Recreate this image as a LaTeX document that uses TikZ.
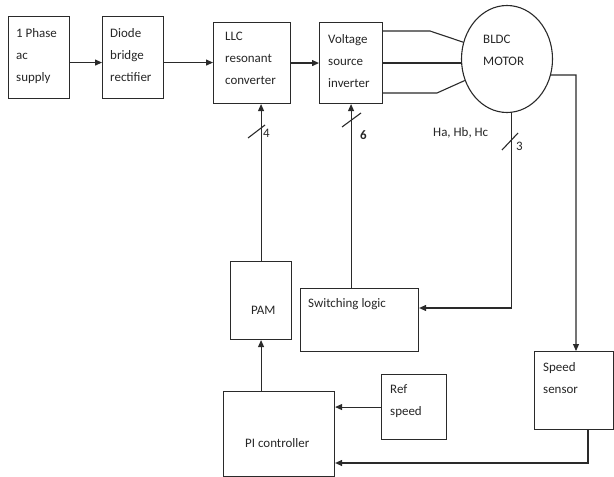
\documentclass[tikz,border=0pt]{standalone}
\usepackage{fontspec}
\setmainfont{Carlito}
\usetikzlibrary{arrows.meta,calc,shapes.geometric}
\definecolor{linec}{HTML}{2A2A2A}
\begin{document}
\begin{tikzpicture}[x=1bp,y=-1bp,
  box/.style={draw=linec, line width=1.1bp, inner sep=0, anchor=north west},
  txt/.style={inner sep=0, anchor=west, align=left, text=black!85, font=\fontsize{13}{22}\selectfont},
  arr/.style={draw=linec, line width=1.1bp, -{Triangle[length=7bp,width=6bp]}},
  ln/.style={draw=linec, line width=1.1bp}]
\useasboundingbox (0,0) rectangle (614,477);
% boxes
\node[box, minimum width=61bp, minimum height=82bp] (sup) at (8,16) {};
\node[box, minimum width=61bp, minimum height=82bp] (dio) at (102,16) {};
\node[box, minimum width=77bp, minimum height=81bp] (llc) at (213,22) {};
\node[box, minimum width=63bp, minimum height=81bp] (vsi) at (319,22) {};
\node[draw=linec, line width=1.1bp, ellipse, minimum width=91bp, minimum height=107bp, inner sep=0] (mot) at (507,59) {};
\node[box, minimum width=61bp, minimum height=78bp] (pam) at (230,261) {};
\node[box, minimum width=118bp, minimum height=63bp] (sw) at (300,288) {};
\node[box, minimum width=111bp, minimum height=85bp] (pi) at (223,391) {};
\node[box, minimum width=65bp, minimum height=65bp] (ref) at (381,374) {};
\node[box, minimum width=79bp, minimum height=78bp] (ss) at (534,351) {};
% texts
\node[txt] (tsup) at (16,56) {1 Phase\\ac\\supply};
\node[txt] (tdio) at (110,55) {Diode\\bridge\\rectifier};
\node[txt] (tllc) at (225,58) {LLC\\resonant\\converter};
\node[txt] (tvsi) at (328,61) {Voltage\\source\\inverter};
\node[txt] (tmot) at (483,50) {BLDC\\MOTOR};
\node[txt] (thall) at (433,133) {Ha, Hb, Hc};
\node[txt] (tsw) at (308,304) {Switching logic};
\node[txt] (tpam) at (251,310) {PAM};
\node[txt] (tpi) at (245,443) {PI controller};
\node[txt] (tref) at (390,401) {Ref\\speed};
\node[txt] (tss) at (543,378) {Speed\\sensor};
\node[txt] (l4) at (263,133) {4};
\node[txt, font=\fontsize{13}{22}\selectfont\bfseries] (l6) at (360,135) {6};
\node[txt] (l3) at (516,146) {3};
% connectors
\draw[arr] ($(sup.east)+(0,5)$) -- ($(dio.west)+(0,5)$);
\draw[arr] ($(dio.east)+(0,5)$) -- (llc.west |- {$(dio.east)+(0,5)$});
\draw[arr] (llc.east) -- (vsi.west);
\coordinate (k1) at (430,31);
\coordinate (k2) at (437,93);
\draw[ln] (vsi.east |- k1) -- (k1) -- (mot.159);
\draw[ln] (vsi.east) -- (vsi.east -| mot.west);
\draw[ln] (vsi.east |- k2) -- (k2) -- (mot.207);
\coordinate (c1) at (576,75);
\draw[arr] (mot.-20) -- (c1) -- (c1 |- ss.north);
\coordinate (c2) at (512,308);
\draw[arr] (mot.-85) -- (mot.-85 |- c2) -- (sw.east |- c2);
\draw[arr] (vsi.south |- sw.north) -- (vsi.south);
\draw[arr] (pam.north) -- (llc.south -| pam.north);
\draw[arr] (pi.north -| pam.south) -- (pam.south);
\draw[arr] (ref.west) -- (ref.west -| pi.east);
\coordinate (c3) at (588,463);
\draw[arr] (c3 |- ss.south) -- (c3) -- (c3 -| pi.east);
% bus slashes
\draw[ln] (248,138) -- (265,125);
\draw[ln] (342,127) -- (361,113);
\draw[ln] (502,150) -- (518,133);
\end{tikzpicture}
\end{document}
